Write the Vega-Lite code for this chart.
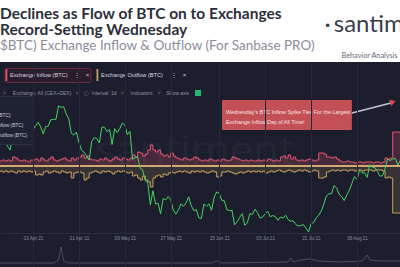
{
  "$schema": "https://vega.github.io/schema/vega-lite/v6.json",
  "width": 400,
  "height": 205,
  "autosize": {"type": "none"},
  "padding": {"top": 62, "left": 0, "right": 0, "bottom": 0},
  "background": "#ffffff",
  "view": {"fill": "#1c1e2d", "stroke": null},
  "title": {
    "text": ["\u00a0Declines as Flow of BTC on to Exchanges", "Record-Setting Wednesday"],
    "subtitle": "$BTC) Exchange Inflow & Outflow (For Sanbase PRO)",
    "anchor": "start",
    "frame": "group",
    "offset": -40,
    "font": "Lato",
    "fontSize": 15.5,
    "fontWeight": "bold",
    "color": "#2d2f3a",
    "lineHeight": 15.5,
    "subtitleFont": "Lato",
    "subtitleFontSize": 13.5,
    "subtitleColor": "#8b8e99",
    "subtitlePadding": 1,
    "subtitleLineHeight": 15
  },
  "datasets": {
    "flows": [
      {"date":"2021-03-20","price":58300,"inflow":25000,"outflow":30000},
      {"date":"2021-03-21","price":57500,"inflow":25000,"outflow":25000},
      {"date":"2021-03-22","price":54500,"inflow":30000,"outflow":30000},
      {"date":"2021-03-23","price":54300,"inflow":25000,"outflow":25000},
      {"date":"2021-03-24","price":52700,"inflow":30000,"outflow":30000},
      {"date":"2021-03-25","price":51700,"inflow":25000,"outflow":25000},
      {"date":"2021-03-26","price":55000,"inflow":45000,"outflow":30000},
      {"date":"2021-03-27","price":55800,"inflow":40000,"outflow":35000},
      {"date":"2021-03-28","price":55800,"inflow":30000,"outflow":25000},
      {"date":"2021-03-29","price":57600,"inflow":25000,"outflow":30000},
      {"date":"2021-03-30","price":58700,"inflow":30000,"outflow":25000},
      {"date":"2021-03-31","price":58900,"inflow":25000,"outflow":30000},
      {"date":"2021-04-01","price":59000,"inflow":20000,"outflow":25000},
      {"date":"2021-04-02","price":59000,"inflow":30000,"outflow":30000},
      {"date":"2021-04-03","price":57100,"inflow":30000,"outflow":25000},
      {"date":"2021-04-04","price":58200,"inflow":35000,"outflow":45000},
      {"date":"2021-04-05","price":59100,"inflow":25000,"outflow":40000},
      {"date":"2021-04-06","price":57900,"inflow":40000,"outflow":45000},
      {"date":"2021-04-07","price":56000,"inflow":30000,"outflow":30000},
      {"date":"2021-04-08","price":58000,"inflow":25000,"outflow":25000},
      {"date":"2021-04-09","price":58100,"inflow":35000,"outflow":35000},
      {"date":"2021-04-10","price":59800,"inflow":45000,"outflow":30000},
      {"date":"2021-04-11","price":59900,"inflow":30000,"outflow":25000},
      {"date":"2021-04-12","price":59900,"inflow":25000,"outflow":30000},
      {"date":"2021-04-13","price":63500,"inflow":30000,"outflow":35000},
      {"date":"2021-04-14","price":63100,"inflow":35000,"outflow":25000},
      {"date":"2021-04-15","price":63300,"inflow":40000,"outflow":30000},
      {"date":"2021-04-16","price":61400,"inflow":30000,"outflow":35000},
      {"date":"2021-04-17","price":60100,"inflow":25000,"outflow":30000},
      {"date":"2021-04-18","price":56200,"inflow":40000,"outflow":60000},
      {"date":"2021-04-19","price":55700,"inflow":30000,"outflow":35000},
      {"date":"2021-04-20","price":56500,"inflow":40000,"outflow":30000},
      {"date":"2021-04-21","price":53800,"inflow":45000,"outflow":30000},
      {"date":"2021-04-22","price":51700,"inflow":55000,"outflow":35000},
      {"date":"2021-04-23","price":51100,"inflow":40000,"outflow":70000},
      {"date":"2021-04-24","price":50100,"inflow":50000,"outflow":60000},
      {"date":"2021-04-25","price":49000,"inflow":35000,"outflow":35000},
      {"date":"2021-04-26","price":54000,"inflow":30000,"outflow":30000},
      {"date":"2021-04-27","price":55000,"inflow":30000,"outflow":25000},
      {"date":"2021-04-28","price":54800,"inflow":25000,"outflow":30000},
      {"date":"2021-04-29","price":53600,"inflow":35000,"outflow":35000},
      {"date":"2021-04-30","price":57800,"inflow":30000,"outflow":25000},
      {"date":"2021-05-01","price":57800,"inflow":40000,"outflow":30000},
      {"date":"2021-05-02","price":56600,"inflow":30000,"outflow":25000},
      {"date":"2021-05-03","price":57200,"inflow":25000,"outflow":30000},
      {"date":"2021-05-04","price":53200,"inflow":35000,"outflow":40000},
      {"date":"2021-05-05","price":57400,"inflow":45000,"outflow":30000},
      {"date":"2021-05-06","price":56400,"inflow":35000,"outflow":25000},
      {"date":"2021-05-07","price":57400,"inflow":30000,"outflow":30000},
      {"date":"2021-05-08","price":58900,"inflow":40000,"outflow":25000},
      {"date":"2021-05-09","price":58300,"inflow":35000,"outflow":30000},
      {"date":"2021-05-10","price":55800,"inflow":30000,"outflow":35000},
      {"date":"2021-05-11","price":56700,"inflow":40000,"outflow":30000},
      {"date":"2021-05-12","price":49200,"inflow":55000,"outflow":50000},
      {"date":"2021-05-13","price":49700,"inflow":45000,"outflow":45000},
      {"date":"2021-05-14","price":49900,"inflow":70000,"outflow":60000},
      {"date":"2021-05-15","price":46800,"inflow":65000,"outflow":70000},
      {"date":"2021-05-16","price":46400,"inflow":50000,"outflow":50000},
      {"date":"2021-05-17","price":43500,"inflow":60000,"outflow":70000},
      {"date":"2021-05-18","price":42900,"inflow":80000,"outflow":80000},
      {"date":"2021-05-19","price":37000,"inflow":105000,"outflow":105000},
      {"date":"2021-05-20","price":40800,"inflow":80000,"outflow":60000},
      {"date":"2021-05-21","price":37300,"inflow":70000,"outflow":50000},
      {"date":"2021-05-22","price":37500,"inflow":80000,"outflow":45000},
      {"date":"2021-05-23","price":34700,"inflow":60000,"outflow":55000},
      {"date":"2021-05-24","price":38700,"inflow":50000,"outflow":40000},
      {"date":"2021-05-25","price":38400,"inflow":55000,"outflow":45000},
      {"date":"2021-05-26","price":39300,"inflow":45000,"outflow":35000},
      {"date":"2021-05-27","price":38400,"inflow":65000,"outflow":30000},
      {"date":"2021-05-28","price":35700,"inflow":50000,"outflow":35000},
      {"date":"2021-05-29","price":34600,"inflow":40000,"outflow":30000},
      {"date":"2021-05-30","price":35700,"inflow":35000,"outflow":25000},
      {"date":"2021-05-31","price":37300,"inflow":30000,"outflow":30000},
      {"date":"2021-06-01","price":36700,"inflow":40000,"outflow":25000},
      {"date":"2021-06-02","price":37600,"inflow":35000,"outflow":30000},
      {"date":"2021-06-03","price":39200,"inflow":30000,"outflow":35000},
      {"date":"2021-06-04","price":36900,"inflow":35000,"outflow":25000},
      {"date":"2021-06-05","price":35500,"inflow":45000,"outflow":30000},
      {"date":"2021-06-06","price":35800,"inflow":40000,"outflow":25000},
      {"date":"2021-06-07","price":33600,"inflow":30000,"outflow":30000},
      {"date":"2021-06-08","price":33400,"inflow":25000,"outflow":25000},
      {"date":"2021-06-09","price":37300,"inflow":30000,"outflow":30000},
      {"date":"2021-06-10","price":36700,"inflow":25000,"outflow":35000},
      {"date":"2021-06-11","price":37300,"inflow":35000,"outflow":30000},
      {"date":"2021-06-12","price":35600,"inflow":30000,"outflow":25000},
      {"date":"2021-06-13","price":39100,"inflow":25000,"outflow":30000},
      {"date":"2021-06-14","price":40500,"inflow":30000,"outflow":55000},
      {"date":"2021-06-15","price":40100,"inflow":25000,"outflow":50000},
      {"date":"2021-06-16","price":38300,"inflow":35000,"outflow":30000},
      {"date":"2021-06-17","price":38100,"inflow":30000,"outflow":30000},
      {"date":"2021-06-18","price":35800,"inflow":25000,"outflow":25000},
      {"date":"2021-06-19","price":35500,"inflow":30000,"outflow":30000},
      {"date":"2021-06-20","price":35600,"inflow":45000,"outflow":35000},
      {"date":"2021-06-21","price":31700,"inflow":40000,"outflow":40000},
      {"date":"2021-06-22","price":32500,"inflow":35000,"outflow":35000},
      {"date":"2021-06-23","price":33700,"inflow":30000,"outflow":30000},
      {"date":"2021-06-24","price":34700,"inflow":25000,"outflow":35000},
      {"date":"2021-06-25","price":31600,"inflow":30000,"outflow":30000},
      {"date":"2021-06-26","price":32200,"inflow":25000,"outflow":25000},
      {"date":"2021-06-27","price":34700,"inflow":30000,"outflow":30000},
      {"date":"2021-06-28","price":34500,"inflow":25000,"outflow":25000},
      {"date":"2021-06-29","price":35900,"inflow":25000,"outflow":30000},
      {"date":"2021-06-30","price":35000,"inflow":30000,"outflow":25000},
      {"date":"2021-07-01","price":33500,"inflow":25000,"outflow":30000},
      {"date":"2021-07-02","price":33800,"inflow":30000,"outflow":25000},
      {"date":"2021-07-03","price":34700,"inflow":25000,"outflow":35000},
      {"date":"2021-07-04","price":35300,"inflow":35000,"outflow":30000},
      {"date":"2021-07-05","price":33900,"inflow":30000,"outflow":25000},
      {"date":"2021-07-06","price":34200,"inflow":25000,"outflow":30000},
      {"date":"2021-07-07","price":33900,"inflow":30000,"outflow":25000},
      {"date":"2021-07-08","price":32900,"inflow":25000,"outflow":20000},
      {"date":"2021-07-09","price":33800,"inflow":45000,"outflow":25000},
      {"date":"2021-07-10","price":33500,"inflow":50000,"outflow":30000},
      {"date":"2021-07-11","price":34300,"inflow":40000,"outflow":25000},
      {"date":"2021-07-12","price":33100,"inflow":55000,"outflow":20000},
      {"date":"2021-07-13","price":32700,"inflow":35000,"outflow":25000},
      {"date":"2021-07-14","price":32800,"inflow":45000,"outflow":30000},
      {"date":"2021-07-15","price":31800,"inflow":30000,"outflow":25000},
      {"date":"2021-07-16","price":31400,"inflow":25000,"outflow":20000},
      {"date":"2021-07-17","price":31500,"inflow":30000,"outflow":25000},
      {"date":"2021-07-18","price":31800,"inflow":25000,"outflow":20000},
      {"date":"2021-07-19","price":30800,"inflow":30000,"outflow":25000},
      {"date":"2021-07-20","price":29800,"inflow":35000,"outflow":30000},
      {"date":"2021-07-21","price":32100,"inflow":30000,"outflow":25000},
      {"date":"2021-07-22","price":32300,"inflow":25000,"outflow":20000},
      {"date":"2021-07-23","price":33600,"inflow":30000,"outflow":25000},
      {"date":"2021-07-24","price":34300,"inflow":65000,"outflow":60000},
      {"date":"2021-07-25","price":35400,"inflow":65000,"outflow":60000},
      {"date":"2021-07-26","price":37300,"inflow":60000,"outflow":55000},
      {"date":"2021-07-27","price":39400,"inflow":45000,"outflow":30000},
      {"date":"2021-07-28","price":40000,"inflow":45000,"outflow":25000},
      {"date":"2021-07-29","price":40000,"inflow":40000,"outflow":20000},
      {"date":"2021-07-30","price":42200,"inflow":45000,"outflow":25000},
      {"date":"2021-07-31","price":41600,"inflow":35000,"outflow":20000},
      {"date":"2021-08-01","price":39900,"inflow":25000,"outflow":25000},
      {"date":"2021-08-02","price":39200,"inflow":20000,"outflow":20000},
      {"date":"2021-08-03","price":38200,"inflow":20000,"outflow":20000},
      {"date":"2021-08-04","price":39700,"inflow":25000,"outflow":25000},
      {"date":"2021-08-05","price":40900,"inflow":20000,"outflow":20000},
      {"date":"2021-08-06","price":42800,"inflow":20000,"outflow":20000},
      {"date":"2021-08-07","price":44600,"inflow":15000,"outflow":25000},
      {"date":"2021-08-08","price":43800,"inflow":20000,"outflow":20000},
      {"date":"2021-08-09","price":46300,"inflow":20000,"outflow":20000},
      {"date":"2021-08-10","price":45600,"inflow":15000,"outflow":25000},
      {"date":"2021-08-11","price":45600,"inflow":20000,"outflow":20000},
      {"date":"2021-08-12","price":44400,"inflow":20000,"outflow":20000},
      {"date":"2021-08-13","price":47800,"inflow":20000,"outflow":20000},
      {"date":"2021-08-14","price":47100,"inflow":15000,"outflow":25000},
      {"date":"2021-08-15","price":47000,"inflow":20000,"outflow":20000},
      {"date":"2021-08-16","price":46000,"inflow":20000,"outflow":20000},
      {"date":"2021-08-17","price":44700,"inflow":15000,"outflow":20000},
      {"date":"2021-08-18","price":44800,"inflow":20000,"outflow":25000},
      {"date":"2021-08-19","price":46700,"inflow":40000,"outflow":60000},
      {"date":"2021-08-20","price":49300,"inflow":35000,"outflow":55000},
      {"date":"2021-08-21","price":48900,"inflow":40000,"outflow":60000},
      {"date":"2021-08-22","price":49300,"inflow":170000,"outflow":235000},
      {"date":"2021-08-23","price":49500,"inflow":170000,"outflow":235000},
      {"date":"2021-08-24","price":47700,"inflow":170000,"outflow":235000},
      {"date":"2021-08-25","price":48900,"inflow":170000,"outflow":235000},
      {"date":"2021-08-26","price":47000,"inflow":170000,"outflow":235000}
    ],
    "nav": [
      {"date":"2021-03-20","level":1},
      {"date":"2021-04-11","level":1},
      {"date":"2021-04-13","level":4},
      {"date":"2021-04-14","level":17},
      {"date":"2021-04-15","level":3},
      {"date":"2021-04-17","level":1},
      {"date":"2021-06-12","level":1},
      {"date":"2021-06-14","level":3},
      {"date":"2021-06-16","level":1},
      {"date":"2021-07-12","level":2},
      {"date":"2021-07-13","level":6},
      {"date":"2021-07-14","level":2},
      {"date":"2021-07-17","level":4},
      {"date":"2021-07-20","level":5},
      {"date":"2021-07-24","level":3},
      {"date":"2021-08-01","level":2},
      {"date":"2021-08-10","level":3},
      {"date":"2021-08-12","level":9},
      {"date":"2021-08-13","level":4},
      {"date":"2021-08-17","level":3},
      {"date":"2021-08-26","level":3}
    ]
  },
  "layer": [
    {
      "data": {"name": "flows"},
      "layer": [
        {
          "mark": {"type": "area", "interpolate": "step-after", "fillOpacity": 0.22, "line": {"strokeWidth": 1}},
          "encoding": {
            "x": {
              "field": "date", "type": "temporal",
              "scale": {"type": "utc", "domain": [1616290200000, 1629837600000]},
              "axis": {
                "orient": "bottom", "offset": -34, "zindex": 2,
                "values": [1617408000000, 1618963200000, 1620518400000, 1622073600000, 1623715200000, 1625270400000, 1626825600000, 1628380800000],
                "labelExpr": "utcFormat(datum.value, '%d %b %y')",
                "labelFont": "Liberation Sans", "labelFontSize": 4.6, "labelColor": "#8a8ea2", "labelPadding": 2,
                "labelFlush": false, "labelOverlap": false, "labelBound": false,
                "ticks": false, "domain": true, "domainColor": "#2b2e40",
                "grid": true, "gridColor": "#252839",
                "title": null
              }
            },
            "y": {"field": "inflow", "type": "quantitative", "scale": {"domain": [-505000, 520000], "nice": false, "zero": false}, "axis": null},
            "y2": {"datum": 0},
            "color": {
              "datum": "Exchange Inflow (BTC)", "type": "nominal",
              "scale": {"domain": ["Exchange Inflow (BTC)"], "range": ["#e0566f"]},
              "legend": {
                "orient": "none", "legendX": 4.5, "legendY": 6, "title": null, "direction": "horizontal",
                "symbolType": "M-1,-1H-0.7V1H-1Z", "symbolSize": 144, "symbolOpacity": 1, "symbolStrokeWidth": 0, "symbolFillColor": "#e0566f",
                "labelFont": "Liberation Sans", "labelFontSize": 5.6, "labelColor": "#d6d8e2", "labelOffset": -7.5,
                "labelExpr": "datum.label + '\u00a0\u00a0\u00a0\u00a0\u22ee\u00a0\u00a0\u00a0\u00a0\u00d7'",
                "padding": 1, "fillColor": "#2a1d2b", "strokeColor": "#6d2a3b", "cornerRadius": 2
              }
            }
          }
        },
        {
          "mark": {"type": "rule", "color": "#d4aa74", "strokeWidth": 1.5},
          "encoding": {"y": {"datum": 0, "type": "quantitative"}}
        }
      ]
    },
    {
      "data": {"name": "flows"},
      "mark": {"type": "area", "interpolate": "step-after", "fillOpacity": 0.16, "line": {"strokeWidth": 1}},
      "encoding": {
        "x": {"field": "date", "type": "temporal"},
        "y": {
          "field": "outflow", "type": "quantitative",
          "scale": {"domain": [-520000, 505000], "reverse": true, "nice": false, "zero": false},
          "axis": {
            "orient": "right", "title": "Behavior Analysis", "titleAngle": 0,
            "titleX": -59, "titleY": -4.5, "titleAlign": "left", "titleBaseline": "alphabetic",
            "titleFont": "Lato", "titleFontSize": 7.3, "titleFontWeight": "normal", "titleColor": "#666a78",
            "labels": false, "ticks": false, "domain": false, "grid": false
          }
        },
        "y2": {"datum": 0},
        "color": {
          "datum": "Exchange Outflow (BTC)", "type": "nominal",
          "scale": {"domain": ["Exchange Outflow (BTC)"], "range": ["#c9a062"]},
          "legend": {
            "orient": "none", "legendX": 95.5, "legendY": 6, "title": null, "direction": "horizontal",
            "symbolType": "M-1,-1H-0.7V1H-1Z", "symbolSize": 144, "symbolOpacity": 1, "symbolStrokeWidth": 0, "symbolFillColor": "#e3b13c",
            "labelFont": "Liberation Sans", "labelFontSize": 5.6, "labelColor": "#d6d8e2", "labelOffset": -7.5,
            "labelExpr": "datum.label + '\u00a0\u00a0\u00a0\u00a0\u00a0\u22ee\u00a0\u00a0\u00a0\u00a0\u00d7'",
            "padding": 1
          }
        }
      }
    },
    {
      "data": {"name": "nav"},
      "mark": {"type": "line", "color": "#565a70", "strokeWidth": 0.8},
      "encoding": {
        "x": {"field": "date", "type": "temporal"},
        "y": {
          "field": "level", "type": "quantitative",
          "scale": {"domain": [-3, 202], "nice": false, "zero": false},
          "axis": {
            "orient": "left", "title": "\u00b7\u2009santim", "titleAngle": 0,
            "titleX": 324, "titleY": -30.5, "titleAlign": "left", "titleBaseline": "alphabetic",
            "titleFont": "Lato", "titleFontSize": 24, "titleFontWeight": "normal", "titleColor": "#3b3e4b",
            "labels": false, "ticks": false, "domain": false, "grid": false
          }
        },
        "opacity": {
          "datum": "on", "type": "nominal",
          "scale": {"domain": ["on"], "range": [1]},
          "legend": {
            "orient": "none", "legendX": 0, "legendY": 23, "direction": "horizontal",
            "title": "\u02c5\u00a0\u00a0\u00a0\u00a0\u00a0Exchange: All (CEX+DEX)\u00a0\u00a0\u00a0\u02c5\u00a0\u00a0\u00a0\u00a0\u25a2\u00a0\u00a0Interval: 1d\u00a0\u00a0\u00a0\u02c5\u00a0\u00a0\u00a0\u00a0\u00a0Indicators:\u00a0\u00a0\u00a0\u02c5\u00a0\u00a0\u00a0\u00a0Show axis",
            "titleOrient": "left", "titleBaseline": "middle", "titleAlign": "left", "titlePadding": 3, "titleLimit": 400,
            "titleFont": "Liberation Sans", "titleFontSize": 5, "titleFontWeight": "normal", "titleColor": "#8e92a6",
            "symbolType": "square", "symbolSize": 36, "symbolFillColor": "#22b573", "symbolStrokeWidth": 0, "symbolOpacity": 1,
            "labelExpr": "''", "padding": 3, "labelOffset": 0
          }
        }
      }
    },
    {
      "layer": [
        {
          "data": {"values": [{"date": "2021-06-05T12:00:00Z", "price": 51200, "text": "santiment"}]},
          "mark": {"type": "text", "font": "Open Sans", "fontSize": 42, "color": "#ffffff", "opacity": 0.03, "align": "center", "baseline": "middle"},
          "encoding": {
            "x": {"field": "date", "type": "temporal"},
            "y": {"field": "price", "type": "quantitative", "scale": {"domain": [20450, 75220], "nice": false, "zero": false}, "axis": null},
            "text": {"field": "text"}
          }
        },
        {
          "data": {"name": "flows"},
          "mark": {"type": "line", "strokeWidth": 1},
          "encoding": {
            "x": {"field": "date", "type": "temporal"},
            "y": {"field": "price", "type": "quantitative", "scale": {"domain": [20450, 75220], "nice": false, "zero": false}, "axis": null},
            "color": {
              "datum": "Price USD (BTC)", "type": "nominal",
              "scale": {"domain": ["Price USD (BTC)", "Exchange Inflow (BTC)", "Exchange Outflow (BTC)"], "range": ["#45d460", "#e0566f", "#c9a062"]},
              "legend": {
                "orient": "none", "legendX": -42, "legendY": 34, "title": "\u00a0",
                "titleFont": "Liberation Sans", "titleFontSize": 5, "titlePadding": 6,
                "labelFont": "Liberation Sans", "labelFontSize": 4.8, "labelColor": "#c9ccd8",
                "symbolType": "stroke", "symbolSize": 25, "labelOffset": 4, "padding": 5, "rowPadding": 3.2,
                "fillColor": "#1f2233", "strokeColor": "#303347", "cornerRadius": 2
              }
            }
          }
        },
        {
          "data": {"values": [{"date": "2021-06-16T02:00:00Z", "date2": "2021-08-06T00:00:00Z", "top": 65070, "bottom": 57050}]},
          "mark": {"type": "rect", "color": "#cc5356", "opacity": 0.95, "cornerRadius": 1},
          "encoding": {
            "x": {"field": "date", "type": "temporal"},
            "x2": {"field": "date2"},
            "y": {"field": "top", "type": "quantitative", "scale": {"domain": [20450, 75220], "nice": false, "zero": false}, "axis": null},
            "y2": {"field": "bottom"}
          }
        },
        {
          "data": {"values": [{"date": "2021-06-16T02:00:00Z", "price": 61728, "note": "Wednesday's BTC Inflow Spike Ties For the Largest\nExchange Inflow Day of All Time!"}]},
          "mark": {"type": "text", "font": "Liberation Sans", "fontSize": 5.4, "color": "#f6e4e4", "align": "left", "baseline": "middle", "lineBreak": "\n", "lineHeight": 10, "dx": 4},
          "encoding": {
            "x": {"field": "date", "type": "temporal"},
            "y": {"field": "price", "type": "quantitative", "scale": {"domain": [20450, 75220], "nice": false, "zero": false}, "axis": null},
            "text": {"field": "note"}
          }
        },
        {
          "data": {"values": [{"date": "2021-08-06T00:00:00Z", "date2": "2021-08-21T08:00:00Z", "p1": 61600, "p2": 64270}]},
          "mark": {"type": "rule", "color": "#c3c6d6", "strokeWidth": 1.4},
          "encoding": {
            "x": {"field": "date", "type": "temporal"},
            "x2": {"field": "date2"},
            "y": {"field": "p1", "type": "quantitative", "scale": {"domain": [20450, 75220], "nice": false, "zero": false}, "axis": null},
            "y2": {"field": "p2"}
          }
        },
        {
          "data": {"values": [{"date": "2021-08-22T02:00:00Z", "price": 64530}]},
          "mark": {"type": "point", "shape": "triangle-up", "angle": 71, "size": 45, "filled": true, "color": "#d24a4f", "opacity": 1},
          "encoding": {
            "x": {"field": "date", "type": "temporal"},
            "y": {"field": "price", "type": "quantitative", "scale": {"domain": [20450, 75220], "nice": false, "zero": false}, "axis": null}
          }
        }
      ]
    }
  ],
  "resolve": {"scale": {"y": "independent", "color": "independent", "opacity": "independent"}}
}
